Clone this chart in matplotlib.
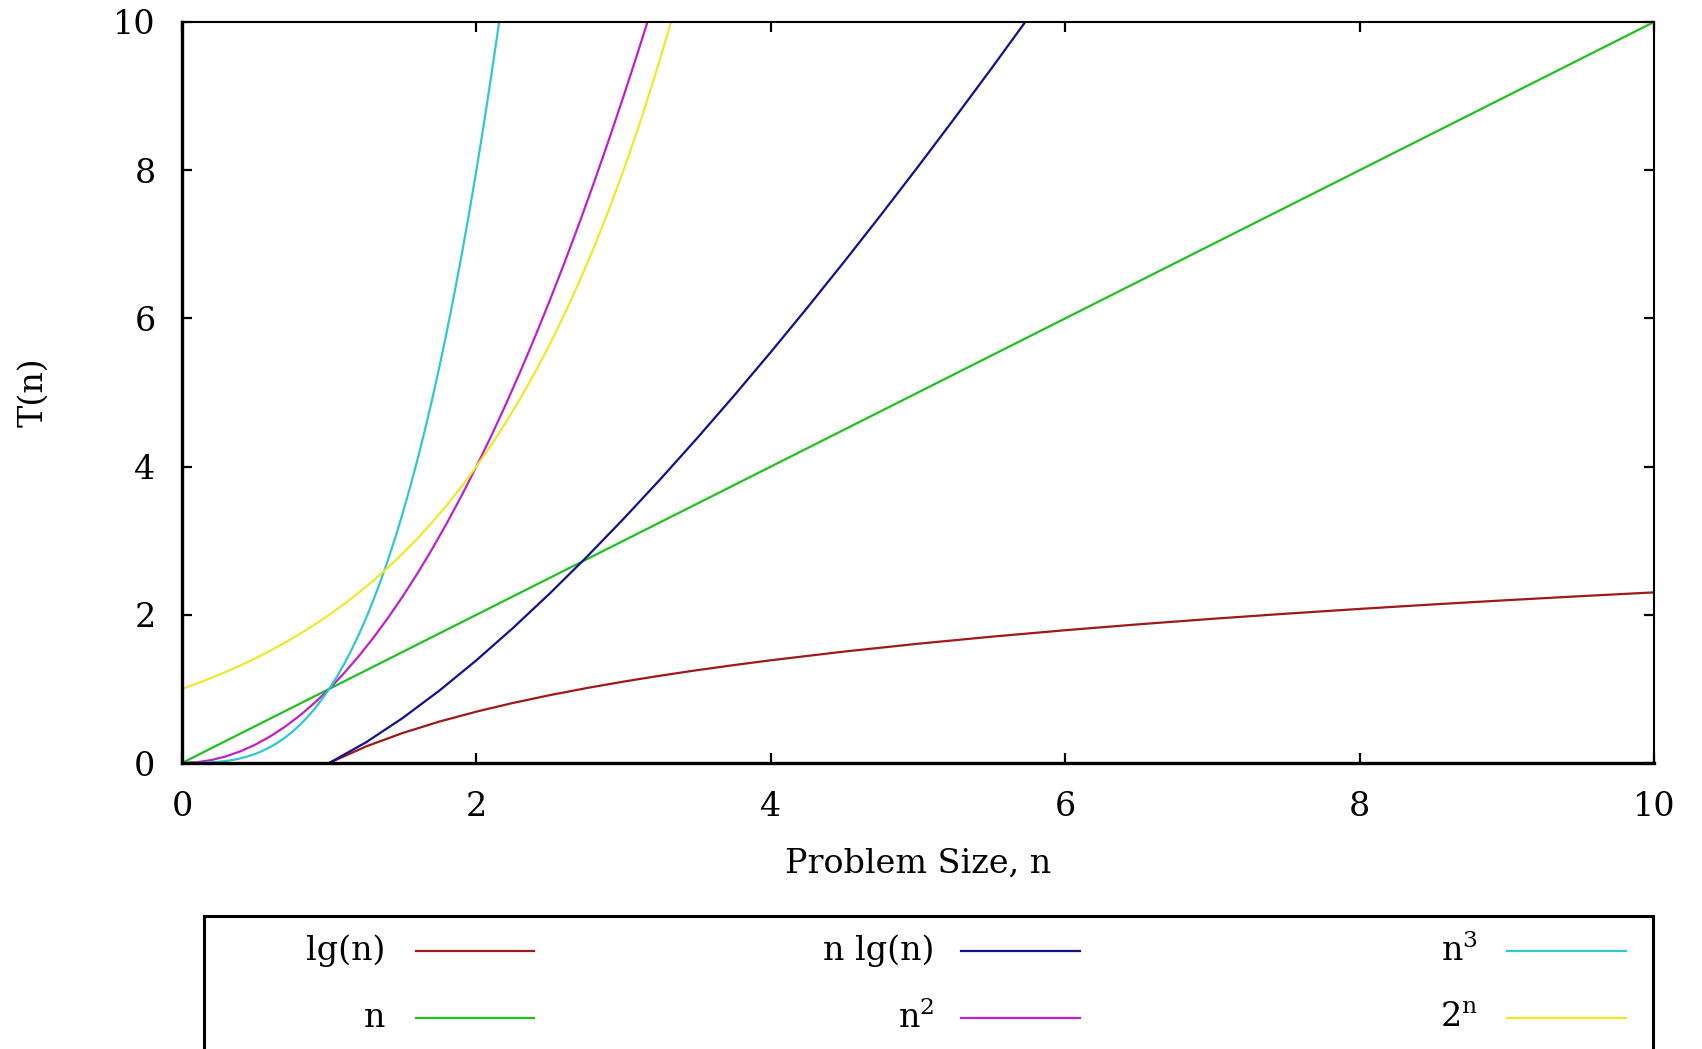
import matplotlib
matplotlib.use("Agg")
import matplotlib.pyplot as plt
from matplotlib.lines import Line2D
from matplotlib.patches import Rectangle

plt.rcParams["font.family"] = ["DejaVu Serif"]
plt.rcParams["mathtext.fontset"] = "dejavuserif"

N_LINEAR = [0, 10]
T_LINEAR = [0, 10]

N_LG = [1, 1.25, 1.5, 1.75, 2, 2.25, 2.5, 2.75, 3, 3.25, 3.5, 3.75, 4, 4.5,
        5, 5.5, 6, 6.5, 7, 7.5, 8, 8.5, 9, 9.5, 10]
T_LG = [0, 0.2231, 0.4055, 0.5596, 0.6931, 0.8109, 0.9163, 1.0116, 1.0986,
        1.1787, 1.2528, 1.3218, 1.3863, 1.5041, 1.6094, 1.7047, 1.7918,
        1.8718, 1.9459, 2.0149, 2.0794, 2.1401, 2.1972, 2.2513, 2.3026]

N_NLG = [1, 1.25, 1.5, 1.75, 2, 2.25, 2.5, 2.75, 3, 3.25, 3.5, 3.75, 4, 4.25,
         4.5, 4.75, 5, 5.25, 5.5, 5.75, 6]
T_NLG = [0, 0.2789, 0.6082, 0.9793, 1.3863, 1.8246, 2.2907, 2.7819, 3.2958,
         3.8306, 4.3847, 4.9566, 5.5452, 6.1494, 6.7684, 7.4012, 8.0472,
         8.7057, 9.3761, 10.0579, 10.7506]

N_SQ = [0, 0.1, 0.2, 0.3, 0.4, 0.5, 0.6, 0.7, 0.8, 0.9, 1.0, 1.1, 1.2, 1.3,
        1.4, 1.5, 1.6, 1.7, 1.8, 1.9, 2.0, 2.1, 2.2, 2.3, 2.4, 2.5, 2.6, 2.7,
        2.8, 2.9, 3.0, 3.1, 3.2]
T_SQ = [0, 0.01, 0.04, 0.09, 0.16, 0.25, 0.36, 0.49, 0.64, 0.81, 1.0, 1.21,
        1.44, 1.69, 1.96, 2.25, 2.56, 2.89, 3.24, 3.61, 4.0, 4.41, 4.84, 5.29,
        5.76, 6.25, 6.76, 7.29, 7.84, 8.41, 9.0, 9.61, 10.24]

N_CUBE = [0, 0.05, 0.1, 0.15, 0.2, 0.25, 0.3, 0.35, 0.4, 0.45, 0.5, 0.55,
          0.6, 0.65, 0.7, 0.75, 0.8, 0.85, 0.9, 0.95, 1.0, 1.05, 1.1, 1.15,
          1.2, 1.25, 1.3, 1.35, 1.4, 1.45, 1.5, 1.55, 1.6, 1.65, 1.7, 1.75,
          1.8, 1.85, 1.9, 1.95, 2.0, 2.05, 2.1, 2.15, 2.2]
T_CUBE = [0, 0.0001, 0.001, 0.0034, 0.008, 0.0156, 0.027, 0.0429, 0.064,
          0.0911, 0.125, 0.1664, 0.216, 0.2746, 0.343, 0.4219, 0.512, 0.6141,
          0.729, 0.8574, 1.0, 1.1576, 1.331, 1.5209, 1.728, 1.9531, 2.197,
          2.4604, 2.744, 3.0486, 3.375, 3.7239, 4.096, 4.4921, 4.913, 5.3594,
          5.832, 6.3316, 6.859, 7.4149, 8.0, 8.6151, 9.261, 9.9384, 10.648]

N_EXP = [0, 0.1, 0.2, 0.3, 0.4, 0.5, 0.6, 0.7, 0.8, 0.9, 1.0, 1.1, 1.2, 1.3,
         1.4, 1.5, 1.6, 1.7, 1.8, 1.9, 2.0, 2.1, 2.2, 2.3, 2.4, 2.5, 2.6, 2.7,
         2.8, 2.9, 3.0, 3.1, 3.2, 3.3, 3.4]
T_EXP = [1.0, 1.0718, 1.1487, 1.2311, 1.3195, 1.4142, 1.5157, 1.6245, 1.7411,
         1.8661, 2.0, 2.1436, 2.2974, 2.4623, 2.6390, 2.8284, 3.0314, 3.2490,
         3.4822, 3.7321, 4.0, 4.2871, 4.5948, 4.9246, 5.2780, 5.6569, 6.0629,
         6.4980, 6.9644, 7.4643, 8.0, 8.5742, 9.1896, 9.8492, 10.5561]

LABELS = ["lg(n)", "n", "n lg(n)", r"$\mathrm{n}^{2}$", r"$\mathrm{n}^{3}$",
          r"$\mathrm{2}^{\mathrm{n}}$"]
COLORS = ["#a01818", "#20c020", "#101090", "#c020c8", "#30c8d0", "#f0e828"]
XTICKS = [0, 2, 4, 6, 8, 10]
YTICKS = [0, 2, 4, 6, 8, 10]

W, H = 1702, 1049
fig = plt.figure(figsize=(W / 100, H / 100), dpi=100)
ax = fig.add_axes([182 / W, 1 - 763 / H, (1654 - 182) / W, (763 - 22) / H])

series = [(N_LG, T_LG), (N_LINEAR, T_LINEAR), (N_NLG, T_NLG),
          (N_SQ, T_SQ), (N_CUBE, T_CUBE), (N_EXP, T_EXP)]
for (xs, ys), c in zip(series, COLORS):
    ax.plot(xs, ys, color=c, lw=1.6, solid_capstyle="butt")

ax.set_xlim(0, 10)
ax.set_ylim(0, 10)
ax.set_xticks(XTICKS)
ax.set_yticks(YTICKS)
ax.tick_params(direction="in", length=7, width=1.6, top=True, right=True,
               labelsize=24)
ax.tick_params(axis="x", pad=20)
ax.tick_params(axis="y", pad=19)
for side in ["left", "bottom"]:
    ax.spines[side].set_linewidth(2.4)
for side in ["top", "right"]:
    ax.spines[side].set_linewidth(1.5)

ax.set_xlabel("Problem Size, n", fontsize=24, labelpad=18)
ax.set_ylabel("T(n)", fontsize=24, labelpad=46)

# gnuplot-style key below the plot
fig.add_artist(Rectangle((204 / W, 1 - 1100 / H), (1653 - 204) / W,
                         (1100 - 916) / H, transform=fig.transFigure,
                         fill=False, edgecolor="black", lw=2.2))
text_right = [385, 934, 1478]
line_x = [(416, 534), (961, 1080), (1507, 1626)]
rows = [951, 1018]
for i, (lab, c) in enumerate(zip(LABELS, COLORS)):
    col, row = i // 2, i % 2
    y = 1 - rows[row] / H
    fig.text(text_right[col] / W, y, lab, ha="right", va="center", fontsize=24)
    x0, x1 = line_x[col]
    fig.add_artist(Line2D([x0 / W, x1 / W], [y, y], color=c, lw=1.6,
                          transform=fig.transFigure))

fig.savefig("out.png", dpi=100)
